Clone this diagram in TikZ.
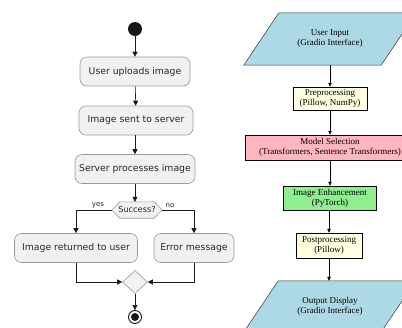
\documentclass[tikz,border=0pt]{standalone}
\usepackage{fontspec}
\setmainfont{Liberation Serif}
\newfontfamily\umlfont{DejaVu Sans}
\usetikzlibrary{arrows.meta,shapes.geometric,backgrounds}
\definecolor{actfill}{HTML}{F1F1F1}
\definecolor{actline}{HTML}{9A9A9A}
\definecolor{umlink}{HTML}{181818}
\definecolor{gblue}{HTML}{ADD8E6}
\definecolor{gyellow}{HTML}{FFFFE0}
\definecolor{gpink}{HTML}{FFB6C1}
\definecolor{ggreen}{HTML}{90EE90}
\tikzset{
  act/.style={draw=actline, fill=actfill, rounded corners=7pt, line width=0.6pt,
    minimum height=29pt, inner sep=0pt, text=black!85,
    font=\umlfont\fontsize{9.3}{11}\selectfont},
  umlflow/.style={draw=umlink, line width=0.6pt, -{Triangle[length=5pt,width=5pt]}},
  umlline/.style={draw=umlink, line width=0.6pt},
  guard/.style={font=\umlfont\fontsize{7}{8}\selectfont, text=black!85, inner sep=1pt},
  gvbox/.style={draw=black, line width=0.5pt, inner sep=0pt, align=center,
    font=\fontsize{9}{10}\selectfont},
  gvtext/.style={inner sep=0pt, align=center, font=\fontsize{9}{10}\selectfont},
  gvpara/.style={draw=black!80, line width=0.5pt, fill=gblue},
  gvflow/.style={draw=black, line width=0.5pt, -{Triangle[length=4pt,width=3.5pt]}}
}
\begin{document}
\begin{tikzpicture}[x=1pt,y=-1pt]
\useasboundingbox (0,0) rectangle (402,327);
\clip (0,0) rectangle (402,327);

% ---------------- left: activity diagram ----------------
\node[circle, fill=umlink, minimum size=14pt, inner sep=0pt] (start) at (135,29) {};
\node[act, minimum width=110pt] (a1) at (135,71.5) {User uploads image};
\node[act, minimum width=114pt] (a2) at (136,120.5) {Image sent to server};
\node[act, minimum width=120pt] (a3) at (135,169) {Server processes image};
\node[minimum width=50pt, minimum height=16pt, inner sep=0pt,
      font=\umlfont\fontsize{8.2}{9}\selectfont, text=black!85] (dec) at (137,210) {Success?};
\draw[draw=actline, fill=actfill, line width=0.6pt]
  (dec.west) -- ([xshift=8pt]dec.north west) -- ([xshift=-8pt]dec.north east)
  -- (dec.east) -- ([xshift=-8pt]dec.south east) -- ([xshift=8pt]dec.south west) -- cycle;
\node[minimum width=50pt, minimum height=16pt, inner sep=0pt,
      font=\umlfont\fontsize{8.2}{9}\selectfont, text=black!85] at (dec) {Success?};
\node[act, minimum width=123pt] (ok) at (76,248) {Image returned to user};
\node[act, minimum width=80pt] (err) at (194,248) {Error message};
\node[diamond, draw=actline, fill=actfill, line width=0.6pt, inner sep=0pt,
      minimum width=25pt, minimum height=23pt] (merge) at (135,282) {};
\node[circle, draw=umlink, line width=0.9pt, fill=white, minimum size=13pt, inner sep=0pt] (end) at (135,317) {};
\fill[umlink] (end.center) circle (4pt);

\draw[umlflow] (start) -- (a1);
\draw[umlflow] (a1) -- (a2);
\draw[umlflow] (a2.south -| a3.north) -- (a3);
\draw[umlflow] (a3) -- (dec.north -| a3.south);
\draw[umlflow] (dec.west) -| (ok.north);
\draw[umlflow] (dec.east) -| (err.north);
\node[guard, anchor=south] at (98,209) {yes};
\node[guard, anchor=south] at (170,209) {no};
\draw[umlflow] (ok.south) |- (merge.west);
\draw[umlflow] (err.south) |- (merge.east);
\draw[umlflow] (merge.south) -- (end.north);

% ---------------- right: pipeline flowchart ----------------
\node[gvtext, minimum width=137pt, minimum height=52pt] (in) at (330,39) {User Input\\(Gradio Interface)};
\node[gvbox, fill=gyellow, minimum width=74pt, minimum height=23pt] (pre) at (330,98.5) {Preprocessing\\(Pillow, NumPy)};
\node[gvbox, fill=gpink, minimum width=170pt, minimum height=25pt] (model) at (330,147.5) {Model Selection\\(Transformers, Sentence Transformers)};
\node[gvbox, fill=ggreen, minimum width=93pt, minimum height=24pt] (enh) at (330,198) {Image Enhancement\\(PyTorch)};
\node[gvbox, fill=gyellow, minimum width=66pt, minimum height=25pt] (post) at (329,245.5) {Postprocessing\\(Pillow)};
\node[gvtext, minimum width=137pt, minimum height=50pt] (out) at (330,306) {Output Display\\(Gradio Interface)};
\begin{scope}[on background layer]
  \draw[gvpara] ([xshift=-17.5pt]in.south west) -- ([xshift=17.5pt]in.north west)
    -- ([xshift=17.5pt]in.north east) -- ([xshift=-17.5pt]in.south east) -- cycle;
  \draw[gvpara] ([xshift=-17pt]out.south west) -- ([xshift=17pt]out.north west)
    -- ([xshift=17pt]out.north east) -- ([xshift=-17pt]out.south east) -- cycle;
\end{scope}
\draw[gvflow] (in.south -| pre.north) -- (pre.north);
\draw[gvflow] (pre.south) -- (model.north -| pre.south);
\draw[gvflow] (model.south -| pre.south) -- (enh.north -| pre.south);
\draw[gvflow] (enh.south -| post.north) -- (post.north);
\draw[gvflow] (post.south) -- (out.north -| post.south);
\end{tikzpicture}
\end{document}
